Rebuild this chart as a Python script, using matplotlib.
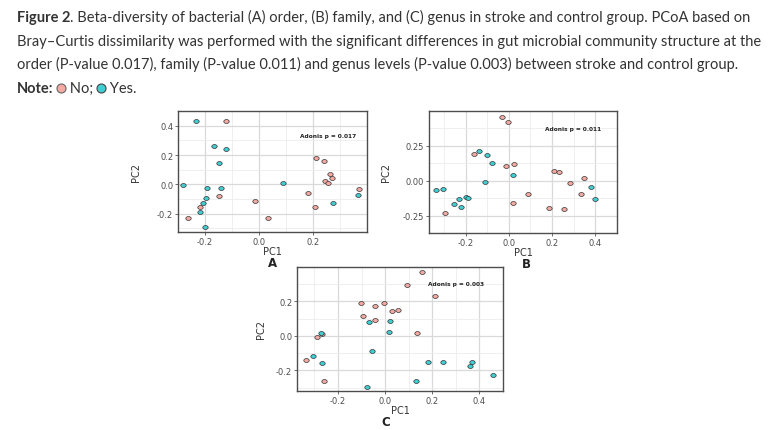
import numpy as np
import matplotlib
matplotlib.use('Agg')
import matplotlib.pyplot as plt
from matplotlib.path import Path
from matplotlib.lines import Line2D

# panel A (order) - PCoA coordinates, No = pink, Yes = cyan
a_no_x = [-0.122, 0.211, 0.238, 0.262, 0.270, 0.243, 0.253, 0.181, 0.368, 0.205, -0.150, -0.016, -0.217, -0.262, 0.032]
a_no_y = [0.429, 0.178, 0.157, 0.070, 0.044, 0.020, 0.007, -0.057, -0.034, -0.156, -0.078, -0.112, -0.157, -0.231, -0.231]
a_yes_x = [-0.235, -0.166, -0.121, -0.147, -0.281, -0.194, -0.141, -0.196, -0.206, -0.217, -0.200, 0.089, 0.273, 0.364]
a_yes_y = [0.429, 0.263, 0.239, 0.148, -0.006, -0.022, -0.027, -0.091, -0.126, -0.188, -0.293, 0.012, -0.130, -0.070]

# panel B (family)
b_no_x = [-0.030, -0.003, -0.160, -0.012, 0.022, 0.089, 0.019, 0.209, 0.231, 0.284, 0.348, 0.334, 0.186, 0.256, -0.293]
b_no_y = [0.460, 0.419, 0.192, 0.108, 0.117, -0.098, -0.158, 0.073, 0.063, -0.015, 0.021, -0.096, -0.194, -0.204, -0.229]
b_yes_x = [-0.335, -0.302, -0.231, -0.200, -0.191, -0.252, -0.221, -0.139, -0.102, -0.078, -0.110, 0.018, 0.379, 0.396]
b_yes_y = [-0.069, -0.056, -0.134, -0.115, -0.123, -0.165, -0.188, 0.210, 0.183, 0.127, -0.011, 0.044, -0.048, -0.131]

# panel C (genus)
c_no_x = [0.158, 0.094, 0.213, -0.103, -0.003, -0.042, 0.031, 0.056, -0.094, -0.045, 0.134, -0.289, -0.268, -0.334, -0.261]
c_no_y = [0.371, 0.294, 0.230, 0.189, 0.191, 0.170, 0.143, 0.151, 0.112, 0.093, 0.014, -0.004, 0.008, -0.141, -0.263]
c_yes_x = [-0.273, -0.308, -0.266, -0.067, 0.020, 0.016, -0.055, -0.077, 0.131, 0.182, 0.245, 0.368, 0.362, 0.458]
c_yes_y = [0.019, -0.118, -0.155, 0.082, 0.088, 0.021, -0.087, -0.296, -0.261, -0.149, -0.149, -0.153, -0.172, -0.224]

adonis = ['Adonis p = 0.017', 'Adonis p = 0.011', 'Adonis p = 0.003']
letters = ['A', 'B', 'C']

caption1 = '. Beta-diversity of bacterial (A) order, (B) family, and (C) genus in stroke and control group. PCoA based on'
caption2 = 'Bray\u2013Curtis dissimilarity was performed with the significant differences in gut microbial community structure at the'
caption3 = 'order (P-value 0.017), family (P-value 0.011) and genus levels (P-value 0.003) between stroke and control group.'

PINK = '#F4A9A2'
CYAN = '#3FCFD3'
W, H = 774, 431

# squashed circle, points in the picture look a bit wide
circ = Path.unit_circle()
ell = Path(circ.vertices * np.array([1.0, 0.72]), circ.codes)

fig = plt.figure(figsize=(W / 100, H / 100), dpi=100)
fig.patch.set_facecolor('white')
renderer = fig.canvas.get_renderer()

cap_family = ['Lato', 'DejaVu Sans']
txt_col = '#333333'

# fit caption font size to line width
probe = fig.text(0, 0, caption2, fontsize=10, family=cap_family)
w = probe.get_window_extent(renderer).width
probe.remove()
fs = 10 * 740 / w


def put(x, y, s, **kw):
    t = fig.text(x / W, 1 - y / H, s, va='baseline', fontsize=fs, family=cap_family, color=txt_col, **kw)
    return x + t.get_window_extent(renderer).width


x = put(17, 22, 'Figure 2', fontweight='bold')
put(x, 22, caption1)
put(17, 46, caption2)
put(17, 69, caption3)
x = put(17, 93, 'Note:', fontweight='bold')
x = put(x, 93, ' ')
fig.add_artist(Line2D([(x + 4) / W], [1 - 88.5 / H], marker='o', markersize=6.5, markerfacecolor=PINK,
                      markeredgecolor='#666666', markeredgewidth=0.8, transform=fig.transFigure))
x = put(x + 9, 93, ' No; ')
fig.add_artist(Line2D([(x + 4) / W], [1 - 88.5 / H], marker='o', markersize=6.5, markerfacecolor=CYAN,
                      markeredgecolor='#444444', markeredgewidth=0.8, transform=fig.transFigure))
put(x + 9, 93, ' Yes.')


def panel(box, no_x, no_y, yes_x, yes_y, xlim, ylim, xt, yt, ylabels, note, note_xy, letter, letter_x, ylab_x):
    left, right, top, bottom = box
    ax = fig.add_axes([left / W, 1 - bottom / H, (right - left) / W, (bottom - top) / H])
    ax.set_facecolor('white')
    ax.scatter(no_x, no_y, s=15, marker=ell, facecolor=PINK, edgecolor='#333333', linewidth=0.5, zorder=3)
    ax.scatter(yes_x, yes_y, s=15, marker=ell, facecolor=CYAN, edgecolor='#333333', linewidth=0.5, zorder=3)
    ax.set_xlim(xlim)
    ax.set_ylim(ylim)
    ax.set_xticks(xt)
    ax.set_xticklabels(['%.1f' % v for v in xt])
    ax.set_yticks(yt)
    ax.set_yticklabels(ylabels)
    # minor grid halfway between the major ticks
    dx = (xt[1] - xt[0]) / 2
    dy = (yt[1] - yt[0]) / 2
    ax.set_xticks(np.arange(xt[0] - dx, xt[-1] + 2 * dx, 2 * dx), minor=True)
    ax.set_yticks(np.arange(yt[0] - dy, yt[-1] + 2 * dy, 2 * dy), minor=True)
    ax.grid(True, which='major', color='#d9d9d9', linewidth=0.9)
    ax.grid(True, which='minor', color='#ececec', linewidth=0.6)
    ax.set_axisbelow(True)
    ax.tick_params(which='major', length=2, width=0.6, color='#555555', labelsize=6,
                   labelcolor='#4d4d4d', pad=1.5)
    ax.tick_params(which='minor', length=0)
    for sp in ax.spines.values():
        sp.set_color('#4d4d4d')
        sp.set_linewidth(1.0)
    ax.set_xlabel('PC1', fontsize=7, color='#333333', labelpad=0)
    ax.set_ylabel('PC2', fontsize=7, color='#333333')
    ax.yaxis.set_label_coords((ylab_x - left) / (right - left), 0.5)
    ax.text(note_xy[0], note_xy[1], note, fontsize=4.2, fontweight='bold', ha='center', va='center', color='#222222')
    fig.text(letter_x / W, 1 - (bottom + 31) / H, letter, fontsize=8.5, fontweight='bold', ha='center', va='center',
             color='#222222')
    return ax


panel((178, 367, 112, 233), a_no_x, a_no_y, a_yes_x, a_yes_y, (-0.298, 0.398), (-0.325, 0.47),
      [-0.2, 0.0, 0.2], [-0.2, 0.0, 0.2, 0.4], ['-0.2', '0.0', '0.2', '0.4'],
      adonis[0], (0.255, 0.335), letters[0], 273, 141)
panel((429, 617, 112, 234), b_no_x, b_no_y, b_yes_x, b_yes_y, (-0.369, 0.408), (-0.263, 0.5),
      [-0.2, 0.0, 0.2, 0.4], [-0.25, 0.0, 0.25], ['-0.25', '0.00', '0.25'],
      adonis[1], (0.296, 0.373), letters[1], 526, 391)
panel((297, 503, 268, 392), c_no_x, c_no_y, c_yes_x, c_yes_y, (-0.374, 0.497), (-0.319, 0.398),
      [-0.2, 0.0, 0.2, 0.4], [-0.2, 0.0, 0.2], ['-0.2', '0.0', '0.2'],
      adonis[2], (0.300, 0.305), letters[2], 386, 266)

fig.savefig('out.png', dpi=100)
